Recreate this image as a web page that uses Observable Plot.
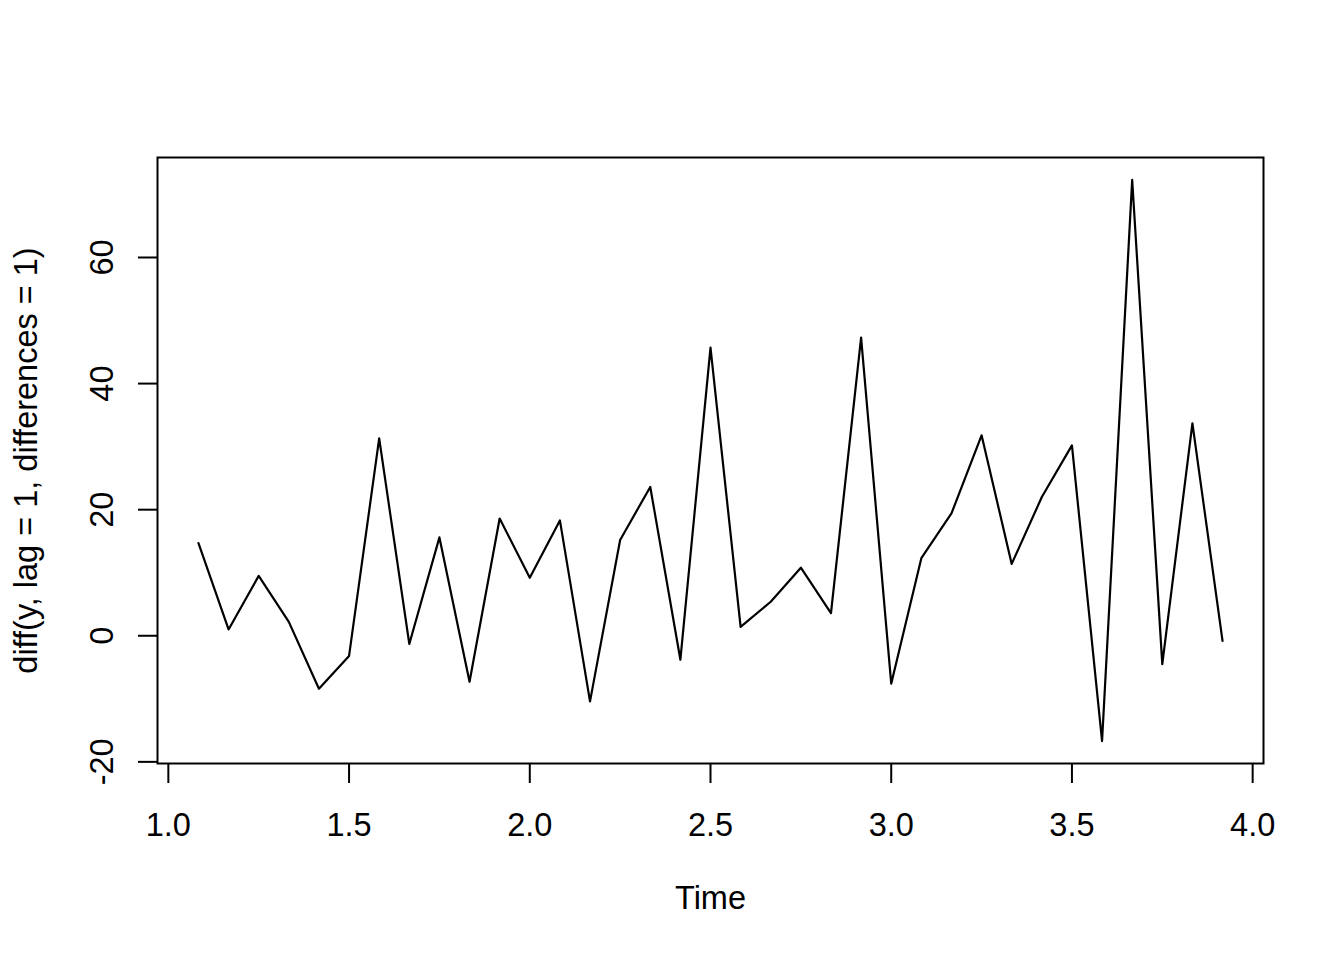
<!DOCTYPE html>
<html>
<head>
<meta charset="utf-8">
<script src="https://cdn.jsdelivr.net/npm/d3@7"></script>
<script src="https://cdn.jsdelivr.net/npm/@observablehq/plot@0.6"></script>
<style>
  html, body { margin: 0; padding: 0; background: #fff; }
  #chart svg { display: block; }
</style>
</head>
<body>
<div id="chart"></div>
<script>
// Time series: monthly (frequency 12), starting at 1 + 1/12
const startTime = 1 + 1 / 12;
const frequency = 12;
const values = [
  14.7, 1.0, 9.5, 2.2, -8.4, -3.2, 31.3, -1.3, 15.6, -7.3,
  18.6, 9.2, 18.3, -10.4, 15.2, 23.6, -3.8, 45.7, 1.4, 5.4,
  10.8, 3.6, 47.3, -7.6, 12.3, 19.4, 31.8, 11.4, 22.0, 30.2,
  -16.7, 72.3, -4.5, 33.7, -0.8
];
const xTicks = [1.0, 1.5, 2.0, 2.5, 3.0, 3.5, 4.0];
const yTicks = [-20, 0, 20, 40, 60];
const xLabel = "Time";
const yLabel = "diff(y, lag = 1, differences = 1)";

const data = values.map((v, i) => ({ t: startTime + i / frequency, v }));

// R-style 4% axis extension
const ext = (lo, hi) => { const d = (hi - lo) * 0.04; return [lo - d, hi + d]; };
const xDom = ext(d3.min(data, d => d.t), d3.max(data, d => d.t));
const yDom = ext(d3.min(values), d3.max(values));

const fontSize = 32.5;
const font = "'Liberation Sans', Arial, Helvetica, sans-serif";

const chart = Plot.plot({
  width: 1344,
  height: 960,
  marginLeft: 157,
  marginRight: 81,
  marginTop: 157,
  marginBottom: 197,
  style: { fontFamily: font, fontSize: fontSize + "px", color: "black", background: "white" },
  x: { domain: xDom },
  y: { domain: yDom },
  marks: [
    Plot.frame({ stroke: "black", strokeWidth: 2 }),
    Plot.axisX(xTicks, {
      tickSize: 20, strokeWidth: 2, tickPadding: 29,
      tickFormat: d3.format(".1f"), fontSize: fontSize, label: null
    }),
    Plot.axisY(yTicks, {
      tickSize: 19, strokeWidth: 2, text: null, label: null
    }),
    Plot.text(yTicks, {
      y: d => d, text: d => String(d), frameAnchor: "left",
      dx: -45, rotate: -90, lineAnchor: "bottom", textAnchor: "middle",
      fontSize: fontSize, fill: "black"
    }),
    Plot.text([xLabel], {
      text: d => d, frameAnchor: "bottom", dy: 145, lineAnchor: "bottom",
      textAnchor: "middle", fontSize: fontSize, fill: "black"
    }),
    Plot.text([yLabel], {
      text: d => d, frameAnchor: "left", dx: -121, rotate: -90,
      lineAnchor: "bottom", textAnchor: "middle", fontSize: fontSize, fill: "black"
    }),
    Plot.line(data, { x: "t", y: "v", stroke: "black", strokeWidth: 2.2 })
  ]
});
document.getElementById("chart").appendChild(chart);
</script>
</body>
</html>
